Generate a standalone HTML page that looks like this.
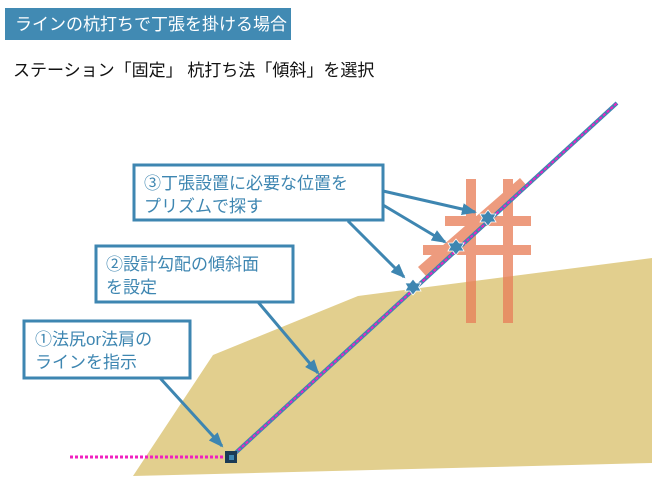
<!DOCTYPE html>
<html><head><meta charset="utf-8"><style>
body{margin:0;width:652px;height:480px;background:#fff;overflow:hidden;font-family:"Liberation Sans","Noto Sans CJK JP",sans-serif}
</style></head><body>
<svg width="652" height="480" viewBox="0 0 652 480" xmlns="http://www.w3.org/2000/svg" style="position:absolute;left:0;top:0">
<defs><marker id="ah" markerWidth="15" markerHeight="12" refX="13" refY="6" orient="auto" markerUnits="userSpaceOnUse"><path d="M0,0 L15,6 L0,12 z" fill="#3E86B1"/></marker></defs>
<rect x="5" y="8" width="286" height="32" fill="#418AB3"/>
<text x="15" y="30" font-size="17" fill="#fff" font-family="Liberation Sans, Noto Sans CJK JP, sans-serif">ラインの杭打ちで丁張を掛ける場合</text>
<text x="13" y="76" font-size="17" fill="#111" font-family="Liberation Sans, Noto Sans CJK JP, sans-serif">ステーション「固定」 杭打ち法「傾斜」を選択</text>
<polygon points="133,476 213,355 358,296 652,258 652,463" fill="#E2CF8E"/>
<g fill="#E8805A" opacity="0.78">
<rect x="466" y="179" width="10" height="144"/>
<rect x="503" y="179" width="10" height="144"/>
<rect x="445" y="216" width="86" height="10"/>
<rect x="423" y="245" width="108" height="10"/>
<polygon points="418,267 520,178 528,187 426,276"/>
</g>
<line x1="231" y1="457" x2="617" y2="103" stroke="#3E86B1" stroke-width="4"/>
<line x1="231" y1="457" x2="617" y2="103" stroke="#F020C0" stroke-width="2" stroke-dasharray="3,2"/>
<line x1="70" y1="457" x2="231" y2="457" stroke="#F020C0" stroke-width="3" stroke-dasharray="3,2"/>
<rect x="225" y="451" width="12" height="12" fill="#1B3A55"/>
<rect x="229" y="455" width="5" height="5" fill="#3E86B1"/>
<g fill="#3E86B1" stroke="#fff" stroke-width="1">
<path d="M0,-10 L4,-5 L10,-5 L7,0 L10,5 L4,5 L0,10 L-4,5 L-10,5 L-7,0 L-10,-5 L-4,-5 z" transform="translate(413,287) scale(0.8)"/>
<path d="M0,-10 L4,-5 L10,-5 L7,0 L10,5 L4,5 L0,10 L-4,5 L-10,5 L-7,0 L-10,-5 L-4,-5 z" transform="translate(456,247) scale(0.8)"/>
<path d="M0,-10 L4,-5 L10,-5 L7,0 L10,5 L4,5 L0,10 L-4,5 L-10,5 L-7,0 L-10,-5 L-4,-5 z" transform="translate(488,218) scale(0.8)"/>
</g>
<g stroke="#3E86B1" stroke-width="3" fill="none">
<line x1="160" y1="378" x2="222" y2="446" marker-end="url(#ah)"/>
<line x1="258" y1="302" x2="318" y2="373" marker-end="url(#ah)"/>
<line x1="348" y1="221" x2="404" y2="277" marker-end="url(#ah)"/>
<line x1="383" y1="205" x2="445" y2="242" marker-end="url(#ah)"/>
<line x1="383" y1="191" x2="475" y2="212" marker-end="url(#ah)"/>
</g>
<g fill="#fff" stroke="#3E86B1" stroke-width="3">
<rect x="24" y="321" width="166" height="57"/>
<rect x="96" y="246" width="197" height="56"/>
<rect x="134" y="165" width="249" height="55"/>
</g>
<g font-size="17" fill="#3E86B1" font-family="Liberation Sans, Noto Sans CJK JP, sans-serif">
<text x="35" y="345">①法尻or法肩の</text><text x="35" y="368">ラインを指示</text>
<text x="106" y="270">②設計勾配の傾斜面</text><text x="106" y="293">を設定</text>
<text x="144" y="189">③丁張設置に必要な位置を</text><text x="144" y="212">プリズムで探す</text>
</g>
</svg>
</body></html>
